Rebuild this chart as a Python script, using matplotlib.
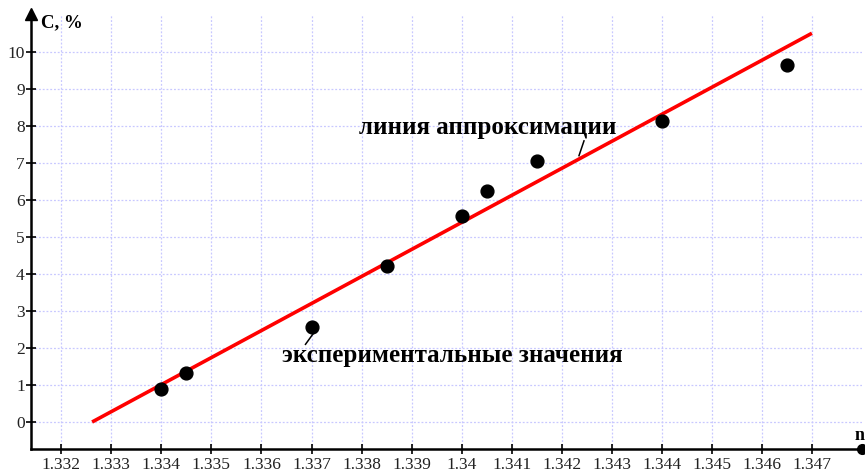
import matplotlib
matplotlib.use("Agg")
import matplotlib.pyplot as plt
import numpy as np

# Experimental values: refractive index n vs concentration C, %
n_exp = [1.3340, 1.3345, 1.3370, 1.3385, 1.3400, 1.3405, 1.3415, 1.3440, 1.3465]
c_exp = [0.88, 1.33, 2.58, 4.21, 5.56, 6.24, 7.05, 8.13, 9.65]

# Approximation line endpoints
n_fit = [1.33262, 1.34699]
c_fit = [0.0, 10.51]

x_ticks = [1.332, 1.333, 1.334, 1.335, 1.336, 1.337, 1.338, 1.339, 1.340,
           1.341, 1.342, 1.343, 1.344, 1.345, 1.346, 1.347]
x_tick_labels = ["1.332", "1.333", "1.334", "1.335", "1.336", "1.337", "1.338",
                 "1.339", "1.34", "1.341", "1.342", "1.343", "1.344", "1.345",
                 "1.346", "1.347"]
y_ticks = list(range(0, 11))

plt.rcParams["font.family"] = ["Liberation Serif", "DejaVu Serif"]

W, H = 865, 471
fig = plt.figure(figsize=(W / 100, H / 100), dpi=100)
left, right, top, bottom = 31, 862, 14, 449
ax = fig.add_axes([left / W, 1 - bottom / H, (right - left) / W, (bottom - top) / H])

xmin, xmax = 1.33140, 1.34799
ymin, ymax = -0.73, 11.03
ax.set_xlim(xmin, xmax)
ax.set_ylim(ymin, ymax)

grid_kw = dict(color="#c8c8ff", lw=0.9, ls=(0, (1.5, 1.5)), zorder=0)
for x in x_ticks:
    ax.axvline(x, **grid_kw)
for y in y_ticks:
    ax.axhline(y, **grid_kw)

ax.plot(n_fit, c_fit, color="#ff0000", lw=2.6, zorder=3, solid_capstyle="butt")
ax.scatter(n_exp, c_exp, s=85, color="black", zorder=4)

for s in ["top", "right"]:
    ax.spines[s].set_visible(False)
for s in ["left", "bottom"]:
    ax.spines[s].set_linewidth(1.8)
    ax.spines[s].set_color("black")

ax.set_xticks(x_ticks)
ax.set_xticklabels(x_tick_labels)
ax.set_yticks(y_ticks)
ax.tick_params(axis="both", direction="inout", length=7, width=1.2,
               labelsize=12.5, colors="black", labelcolor="#222222")
ax.tick_params(axis="x", pad=2)
ax.tick_params(axis="y", pad=1)

# axis arrows
ax.plot([xmin], [ymax], marker="^", ms=8, color="black", clip_on=False, zorder=5)
ax.plot([xmax], [ymin], marker="o", ms=7, color="black", clip_on=False, zorder=5)

ax.text(0.012, 0.98, "C, %", transform=ax.transAxes, fontsize=13.5,
        fontweight="bold", ha="left", va="center")
fig.text(0.999, 1 - 436 / H, "n", fontsize=13, fontweight="bold",
         ha="right", va="center")

ax.text(1.34052, 7.97, "линия аппроксимации", fontsize=18, fontweight="bold",
        ha="center", va="center")
ax.plot([1.34244, 1.34234], [7.6, 7.2], color="black", lw=1.1)

ax.text(1.33982, 1.81, "экспериментальные значения", fontsize=18,
        fontweight="bold", ha="center", va="center")
ax.plot([1.33704, 1.33688], [2.4, 2.1], color="black", lw=1.1)

fig.savefig("out.png", dpi=100)
